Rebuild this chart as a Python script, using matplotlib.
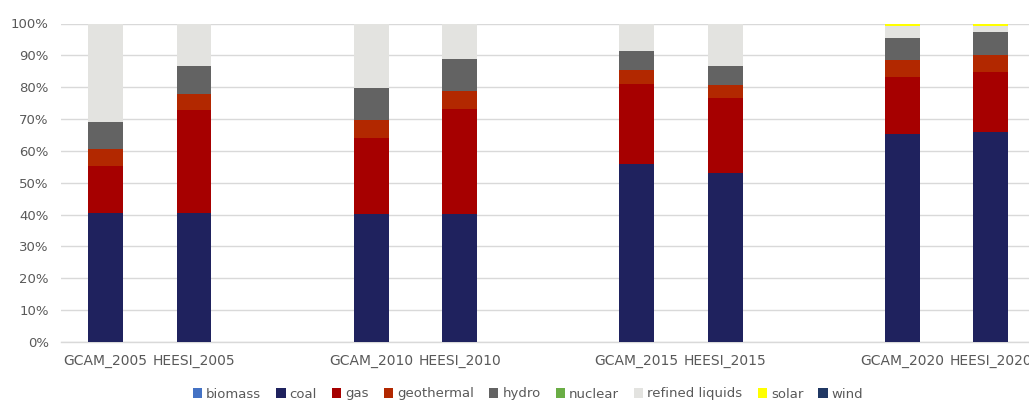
import matplotlib
matplotlib.use("Agg")
import matplotlib.pyplot as plt
from matplotlib.ticker import PercentFormatter
from matplotlib.patches import Patch

# Electricity generation mix by source, share of total (%)
categories = ["GCAM_2005", "HEESI_2005", "GCAM_2010", "HEESI_2010",
              "GCAM_2015", "HEESI_2015", "GCAM_2020", "HEESI_2020"]

biomass         = [0.0, 0.0, 0.0, 0.0, 0.0, 0.0, 0.0, 0.0]
coal            = [40.4, 40.4, 40.2, 40.2, 55.8, 53.2, 65.2, 65.8]
gas             = [15.0, 32.3, 24.0, 33.0, 25.2, 23.4, 17.9, 19.0]
geothermal      = [5.2, 5.2, 5.6, 5.5, 4.3, 4.0, 5.5, 5.4]
hydro           = [8.5, 8.6, 10.0, 10.2, 6.0, 6.2, 6.9, 7.2]
nuclear         = [0.0, 0.0, 0.0, 0.0, 0.0, 0.0, 0.0, 0.0]
refined_liquids = [30.9, 13.5, 19.9, 10.8, 8.4, 12.9, 3.8, 1.9]
solar           = [0.0, 0.0, 0.0, 0.0, 0.0, 0.0, 0.4, 0.4]
wind            = [0.0, 0.0, 0.3, 0.3, 0.3, 0.3, 0.3, 0.3]

series = [
    ("biomass", biomass, "#4472C4"),
    ("coal", coal, "#1F225E"),
    ("gas", gas, "#A60000"),
    ("geothermal", geothermal, "#B22800"),
    ("hydro", hydro, "#636363"),
    ("nuclear", nuclear, "#6AAD45"),
    ("refined liquids", refined_liquids, "#E3E3E0"),
    ("solar", solar, "#FFFF00"),
    ("wind", wind, "#8A96B8"),
]
legend_colors = {"wind": "#203864"}

text_gray = "#595959"

fig = plt.figure(figsize=(10.29, 4.01), dpi=100)
ax = fig.add_axes([61.2 / 1029, (401 - 342) / 401, (1035 - 61.2) / 1029, (342 - 23.5) / 401])

# one empty slot between each pair of bars
xpos = [i + i // 2 for i in range(len(categories))]

bottom = [0.0] * len(categories)
for name, vals, color in series:
    ax.bar(xpos, vals, width=0.395, bottom=bottom, color=color, zorder=3, linewidth=0)
    bottom = [b + v for b, v in zip(bottom, vals)]

ax.set_xlim(-0.5, 10.5)
ax.set_ylim(0, 100)
ax.set_yticks(range(0, 101, 10))
ax.yaxis.set_major_formatter(PercentFormatter(decimals=0))
ax.set_xticks(xpos)
ax.set_xticklabels(categories)

ax.grid(axis="y", color="#D9D9D9", linewidth=1.0, zorder=0)
for s in ["top", "right", "left"]:
    ax.spines[s].set_visible(False)
ax.spines["bottom"].set_color("#D9D9D9")
ax.spines["bottom"].set_linewidth(1.0)
ax.tick_params(axis="both", length=0, colors=text_gray, labelsize=9.5)
ax.tick_params(axis="x", pad=9, labelsize=10)
ax.tick_params(axis="y", pad=9)

handles = [Patch(facecolor=legend_colors.get(n, c), edgecolor="none", label=n)
           for n, _, c in series]
fig.legend(handles=handles, loc="center", bbox_to_anchor=(528 / 1029, 1 - 394 / 401),
           ncol=len(handles), frameon=False, fontsize=9.5, labelcolor=text_gray,
           handlelength=0.7, handleheight=0.7, handletextpad=0.3, columnspacing=1.15)

fig.savefig("out.png", dpi=100)
